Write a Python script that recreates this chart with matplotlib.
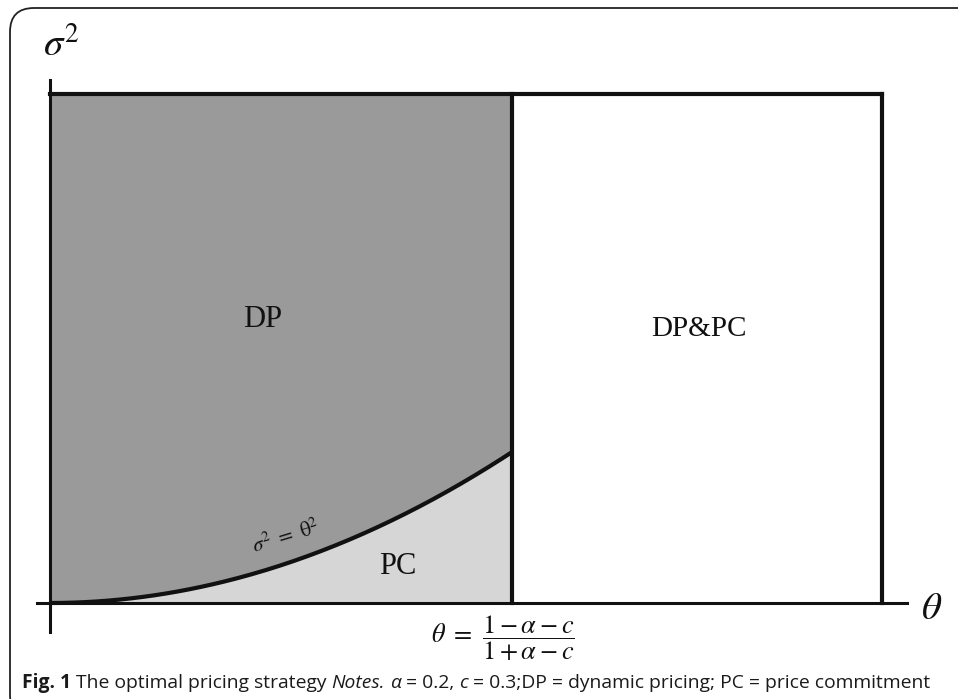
import numpy as np
import matplotlib.pyplot as plt
from matplotlib.patches import FancyBboxPatch

plt.rcParams["mathtext.fontset"] = "stix"

# model parameters
alpha = 0.2
c = 0.3
theta_star = (1 - alpha - c) / (1 + alpha - c)

# region bounds
theta_max = 1.0
sigma_max = 1.04

# boundary curve sigma^2 = theta^2
theta = np.linspace(0, theta_star, 200)
sigma2 = theta ** 2

region_labels = ["DP", "PC", "DP&PC"]

caption_parts = [
    ("Fig. 1", "normal", "bold"),
    (" The optimal pricing strategy ", "normal", "normal"),
    ("Notes.", "italic", "normal"),
    (" ", "normal", "normal"),
    ("\u03b1", "italic", "normal"),
    (" = 0.2, ", "normal", "normal"),
    ("c", "italic", "normal"),
    (" = 0.3;DP = dynamic pricing; PC = price commitment", "normal", "normal"),
]

W, H = 958, 699
fig = plt.figure(figsize=(W / 100, H / 100), dpi=100)

# outer rounded frame, right and bottom edges run off the page
frame = FancyBboxPatch((10 / W, -20 / H), 1000 / W, 711 / H,
                       boxstyle="round,pad=0,rounding_size=0.025",
                       transform=fig.transFigure, fill=False,
                       edgecolor="#222222", linewidth=1.3,
                       mutation_aspect=W / H)
fig.patches.append(frame)

# axes so that (0,0) sits at pixel (50,603)
px_x = 831.6
px_y = 489.0
ax = fig.add_axes([0, 0, 1, 1])
ax.set_xlim(-50 / px_x, (W - 50) / px_x)
ax.set_ylim(-(H - 603) / px_y, 603 / px_y)
ax.axis("off")

dark = "#9a9a9a"
light = "#d5d6d5"
ink = "#111111"

ax.fill_between(theta, sigma2, sigma_max, color=dark, lw=0)
ax.fill_between(theta, 0, sigma2, color=light, lw=0)

lw = 3.0
ax.plot(theta, sigma2, color=ink, lw=lw, solid_capstyle="butt")
ax.plot([0, theta_max], [sigma_max, sigma_max], color=ink, lw=lw)
ax.plot([theta_max, theta_max], [0, sigma_max], color=ink, lw=lw)
ax.plot([theta_star, theta_star], [0, sigma_max], color=ink, lw=lw)
# axis lines
ax.plot([-0.016, 1.03], [0, 0], color=ink, lw=2.2)
ax.plot([0, 0], [-0.06, 1.07], color=ink, lw=2.2)

serif = "Liberation Serif"
ax.text(0.256, 0.58, region_labels[0], fontsize=22, family=serif,
        ha="center", va="center", color=ink)
ax.text(0.78, 0.56, region_labels[2], fontsize=21, family=serif,
        ha="center", va="center", color=ink)
ax.text(0.418, 0.075, region_labels[1], fontsize=22, family=serif,
        ha="center", va="center", color=ink)

ax.text(0.284, 0.137, r"$\sigma^2\ =\ \mathrm{\theta}^2$", fontsize=15,
        rotation=17, ha="center", va="center", color=ink)
ax.text(-0.009, 1.141, r"$\sigma^2$", fontsize=28, ha="left", va="center",
        color=ink)
ax.text(1.047, -0.01, r"$\theta$", fontsize=28, ha="left", va="center",
        color=ink)
ax.text(0.545, -0.072,
        r"$\theta\ =\ \dfrac{1-\alpha-c}{1+\alpha-c}$", fontsize=19,
        ha="center", va="center", color=ink)

# caption, laid out piece by piece and scaled to the reference width
renderer = fig.canvas.get_renderer()
x_left, x_right, y_cap = 22, 930, H - 683
size = 12.5
widths = []
for txt, style, weight in caption_parts:
    t = fig.text(0, 0, txt, fontsize=size, family="Open Sans", style=style,
                 weight=weight)
    widths.append(t.get_window_extent(renderer).width)
    t.remove()
scale = (x_right - x_left) / sum(widths)
size *= scale
x = x_left
for (txt, style, weight), w in zip(caption_parts, widths):
    fig.text(x / W, y_cap / H, txt, fontsize=size, family="Open Sans",
             style=style, weight=weight, ha="left", va="center",
             color="#1a1a1a")
    x += w * scale

fig.savefig("out.png", dpi=100)
